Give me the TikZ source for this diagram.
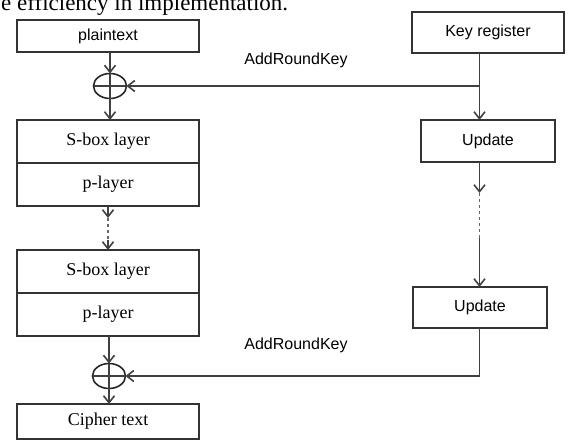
\documentclass[tikz,border=0pt]{standalone}
\usepackage{fontspec}
\setmainfont{Liberation Serif}
\setsansfont{Liberation Sans}
\usetikzlibrary{arrows.meta,shapes.geometric,positioning}

\begin{document}
\begin{tikzpicture}[x=1pt,y=-1pt,>={Straight Barb[length=7pt,width=11pt]}]
      \tikzstyle{blk}=[rectangle,draw=black!80,line width=1.6pt,outer sep=0pt,inner sep=0pt,minimum width=182pt,font=\fontsize{18}{18}\selectfont]
      \tikzstyle{keyblk}=[rectangle,draw=black!80,line width=1.6pt,outer sep=0pt,inner sep=0pt,font=\sffamily\fontsize{16}{16}\selectfont]
      \tikzstyle{xor}=[ellipse,draw=black!85,line width=1.6pt,outer sep=0pt,inner sep=0pt,minimum width=33pt,minimum height=25pt]
      \tikzstyle{wire}=[draw=black!75,line width=1.6pt]
      \tikzstyle{gap}=[draw=black!60,line width=1.6pt,dash pattern=on 3pt off 3pt]
      \tikzstyle{lbl}=[font=\sffamily\fontsize{16}{16}\selectfont]

      \useasboundingbox (0,0) rectangle (569,441);
      \clip (0,0) rectangle (569,441);

      % line of running text above the figure
      \node[anchor=base west,inner sep=0pt,font=\fontsize{23}{23}\selectfont] (txt) at (1,10.5) {e efficiency in implementation.};

      % data path
      \node[blk,minimum height=32pt,font=\sffamily\fontsize{16}{16}\selectfont] (plain) at (108,36) {plaintext};
      \node[xor] (x1) at (110,86) {};
      \node[blk,minimum height=43pt] (sb1) at (108,141.5) {S-box layer};
      \node[blk,minimum height=43pt,below=0pt of sb1] (pl1) {p-layer};
      \node[blk,minimum height=43pt] (sb2) at (108,271.5) {S-box layer};
      \node[blk,minimum height=43pt,below=0pt of sb2] (pl2) {p-layer};
      \node[xor] (x2) at (109,376) {};
      \node[blk,minimum height=35pt] (ct) at (108,421.5) {Cipher text};

      % key schedule
      \node[keyblk,minimum width=152pt,minimum height=41pt] (key) at (488,32.5) {Key register};
      \node[keyblk,minimum width=134pt,minimum height=42pt] (up1) at (488,141) {Update};
      \node[keyblk,minimum width=134pt,minimum height=41pt] (up2) at (480,307.5) {Update};
      \coordinate (kx) at (479.5,0);

      \node[lbl] (ark1) at (296,60) {AddRoundKey};
      \node[lbl] (ark2) at (296,345) {AddRoundKey};

      % xor crosses
      \draw[wire] (x1.north) -- (x1.south) (x1.west) -- (x1.east);
      \draw[wire] (x2.north) -- (x2.south) (x2.west) -- (x2.east);

      \draw[wire,->] (plain.south -| x1) -- (x1.north);
      \draw[wire,->] (x1.south) -- (sb1.north -| x1);
      \draw[wire,->] (pl1.south) -- ++(0,12) coordinate (d1);
      \draw[gap] (d1) -- ++(0,22) coordinate (d2);
      \draw[wire,->] (d2) -- (sb2.north);
      \draw[wire,->] (pl2.south -| x2) -- (x2.north);
      \draw[wire,->] (x2.south) -- (ct.north -| x2);

      \draw[wire,->] (key.south -| kx) -- (up1.north -| kx);
      \draw[wire,->] (kx |- x1) -- (x1.east);
      \draw[wire,->] (up1.south -| kx) -- ++(0,31) coordinate (d3);
      \draw[gap] (d3) -- ++(0,45) coordinate (d4);
      \draw[wire,->] (d4) -- (up2.north -| kx);
      \draw[wire,->] (up2.south -| kx) |- (x2.east);
\end{tikzpicture}
\end{document}
